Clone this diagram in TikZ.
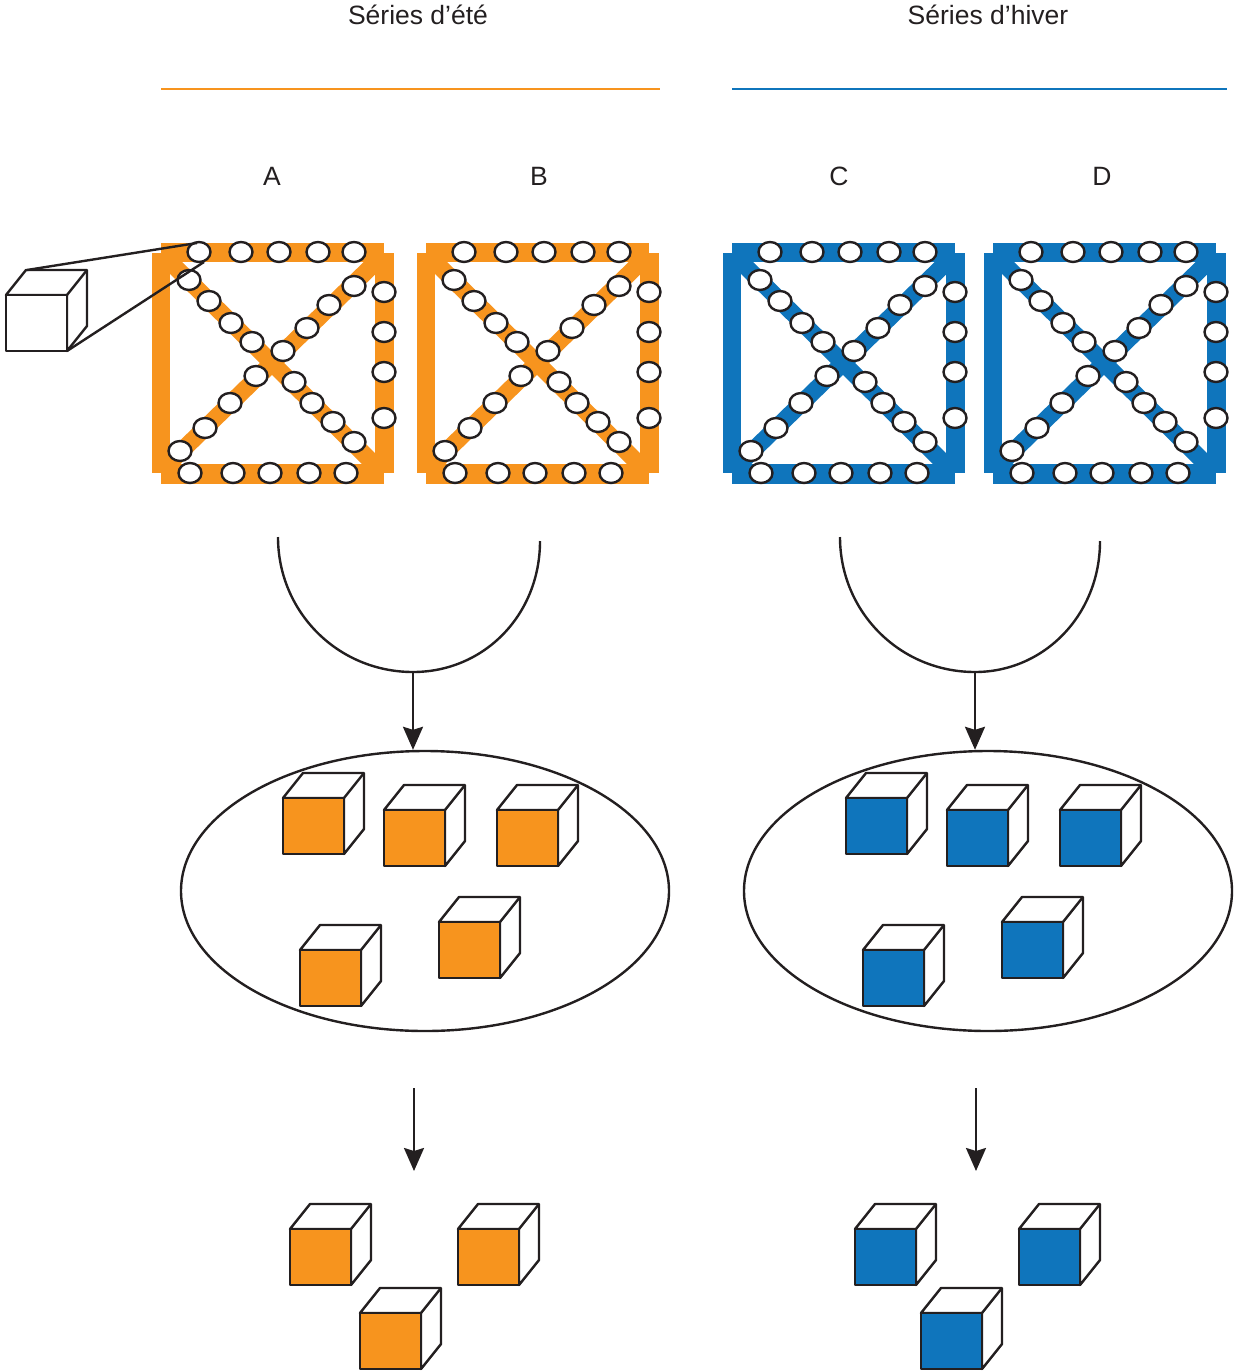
\documentclass[tikz,border=0pt]{standalone}
\usepackage{fontspec}
\setmainfont{Liberation Sans}
\usetikzlibrary{arrows.meta,shapes.geometric}
\definecolor{ete}{HTML}{F7941E}
\definecolor{hiver}{HTML}{0F75BC}
\definecolor{trait}{HTML}{231F20}
\tikzset{
  bead/.style={ellipse,draw=trait,fill=white,line width=2.4pt,minimum width=23pt,minimum height=20pt,inner sep=0pt},
  pool/.style={ellipse,draw=trait,line width=2.4pt,minimum width=488pt,minimum height=280pt,inner sep=0pt},
  label/.style={font=\fontsize{26.5}{30}\selectfont,text=trait},
  link/.style={draw=trait,line width=2.4pt},
  flow/.style={link,-{Stealth[length=23pt,width=20pt,inset=3pt]}},
  pics/cube/.style={code={
    \draw[link,line join=round,fill=white] (0,0) -- (20,-25) -- (81,-25) -- (81,31) -- (61,56) -- (61,0) -- cycle;
    \draw[link,line join=round] (61,0) -- (81,-25);
    \draw[link,line join=round,fill=#1] (0,0) rectangle (61,56);
  }},
  pics/frame/.style={code={
    \fill[#1] (161,243) rectangle (384,262); % haut
    \fill[#1] (161,464) rectangle (384,484); % bas
    \fill[#1] (152,253) rectangle (170,473); % gauche
    \fill[#1] (375,253) rectangle (394,473); % droite
    \draw[#1,line width=17pt] (166,258) -- (380,470);
    \draw[#1,line width=17pt] (380,258) -- (166,466);
    \foreach \x/\y [count=\i] in {199/252,241/252,279/252,318/252,354/252,
      189/280,209/301,231/323,252/342,294/382,312/403,333/422,354/442,
      180/451,205/428,230/403,256/376,283/351,307/328,329/305,354/286,
      384/292,384/332,384/372,384/418,
      190/473,233/473,270/473,309/473,346/473}
      \node[bead] (b\i) at (\x,\y) {};
  }},
}
\begin{document}
\begin{tikzpicture}[x=1pt,y=-1pt]
\useasboundingbox (0,0) rectangle (1235,1371);
% titres
\node[label] (ttlete) at (418,15) {Séries d’été};
\node[label] (ttlhiver) at (988,15) {Séries d’hiver};
\coordinate (eteL) at (161,89);
\coordinate (eteR) at (660,89);
\coordinate (hivL) at (732,89);
\coordinate (hivR) at (1227,89);
\draw[ete,line width=2.6pt] (eteL) -- (eteR);
\draw[hiver,line width=2.6pt] (hivL) -- (hivR);
\node[label] (lblA) at (272,176) {A};
\node[label] (lblB) at (539,176) {B};
\node[label] (lblC) at (839,176) {C};
\node[label] (lblD) at (1102,176) {D};
% parcelles
\pic (frmA) at (0,0) {frame=ete};
\pic (frmB) at (265,0) {frame=ete};
\pic (frmC) at (571,0) {frame=hiver};
\pic (frmD) at (832,0) {frame=hiver};
% cube de gauche
\pic at (6,295) {cube=white};
\coordinate (zoomT) at (27,270);
\coordinate (zoomB) at (67,351);
\coordinate (zoomU) at (197,243);
\coordinate (zoomV) at (204,262);
\draw[link] (zoomT) -- (zoomU);
\draw[link] (zoomB) -- (zoomV);
% regroupement
\coordinate (arcAa) at (278,537);
\coordinate (arcAb) at (413,672);
\coordinate (arcAc) at (540,541);
\coordinate (arcBa) at (840,537);
\coordinate (arcBb) at (975,672);
\coordinate (arcBc) at (1100,541);
\draw[link] (arcAa) .. controls (278,612) and (338,672) .. (arcAb) .. controls (484,672) and (540,615) .. (arcAc);
\draw[link] (arcBa) .. controls (840,612) and (900,672) .. (arcBb) .. controls (1044,672) and (1100,615) .. (arcBc);
\node[pool] (poolA) at (425,891) {};
\node[pool] (poolB) at (988,891) {};
\draw[flow] (arcAb) -- (arcAb |- poolA.north);
\draw[flow] (arcBb) -- (arcBb |- poolB.north);
\foreach \x/\y in {283/798,384/810,497/810,300/950,439/922}
  \pic at (\x,\y) {cube=ete};
\foreach \x/\y in {846/798,947/810,1060/810,863/950,1002/922}
  \pic at (\x,\y) {cube=hiver};
% selection
\coordinate (outAa) at (414,1088);
\coordinate (outAb) at (414,1171);
\coordinate (outBa) at (976,1088);
\coordinate (outBb) at (976,1171);
\draw[flow] (outAa) -- (outAb);
\draw[flow] (outBa) -- (outBb);
\foreach \x/\y in {290/1229,458/1229,360/1313}
  \pic at (\x,\y) {cube=ete};
\foreach \x/\y in {855/1229,1019/1229,921/1313}
  \pic at (\x,\y) {cube=hiver};
\end{tikzpicture}
\end{document}
